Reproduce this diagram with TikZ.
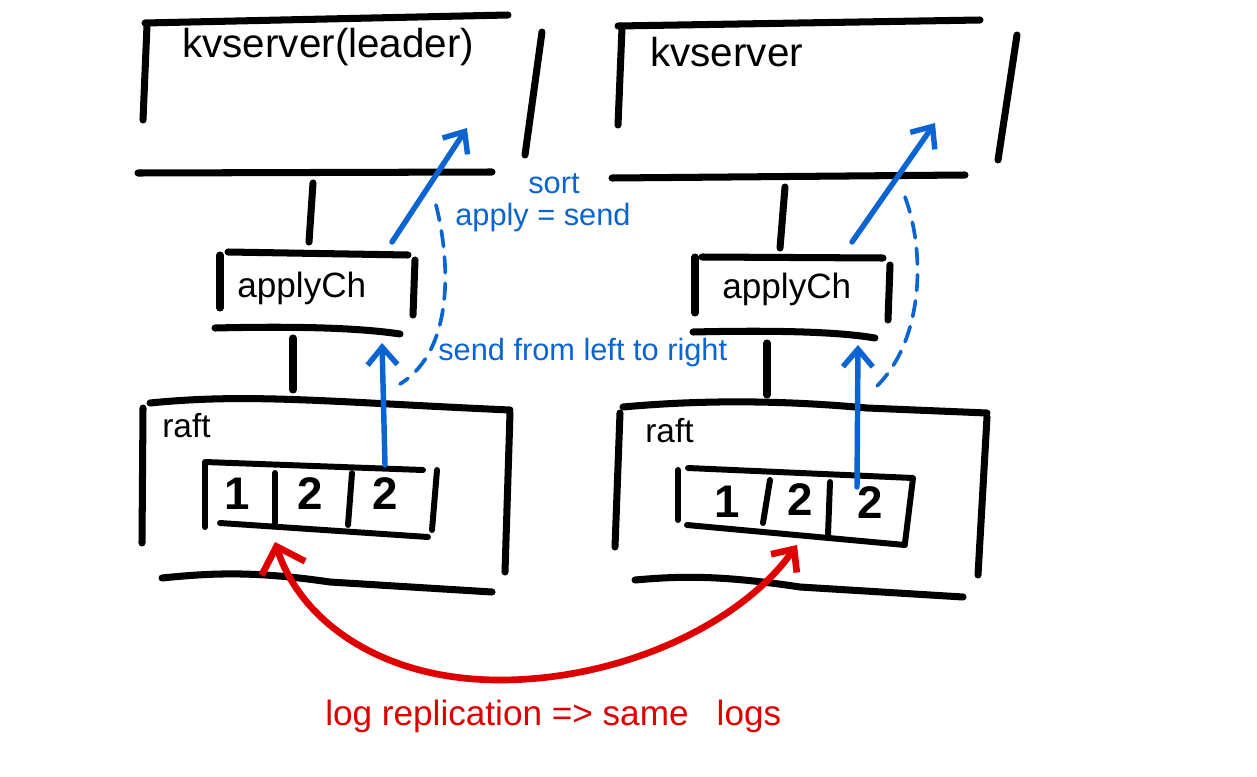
\documentclass[tikz,border=0pt]{standalone}
\usepackage{fontspec}
\setmainfont{Liberation Sans}
\usetikzlibrary{arrows.meta}
\definecolor{penblue}{RGB}{10,100,210}
\definecolor{penred}{RGB}{222,0,0}
\begin{document}
\begin{tikzpicture}[x=0.02cm,y=-0.02cm,
  ink/.style={line width=4pt,line cap=round,line join=round,black},
  thinink/.style={line width=3.4pt,line cap=round,line join=round,black},
  blueink/.style={line width=3.1pt,line cap=round,penblue},
  bluearrow/.style={blueink,-{Straight Barb[length=10pt,width=17pt]}},
  dashink/.style={line width=2.1pt,penblue,dash pattern=on 9pt off 6pt,line cap=round},
  redarrow/.style={line width=3.8pt,line cap=round,penred,
    {Straight Barb[length=13pt,width=26pt]}-{Straight Barb[length=10pt,width=18pt]}},
  lbl/.style={inner sep=0pt,anchor=base west,font=\fontsize{23}{28}\selectfont},
  aclbl/.style={inner sep=0pt,anchor=base west,font=\fontsize{20}{24}\selectfont},
  raftlbl/.style={inner sep=0pt,anchor=base west,font=\fontsize{19}{23}\selectfont},
  digit/.style={inner sep=0pt,anchor=center,font=\fontsize{26}{30}\selectfont\bfseries},
  bluelbl/.style={inner sep=0pt,anchor=base west,text=penblue,font=\fontsize{17.5}{21}\selectfont},
  redlbl/.style={inner sep=0pt,anchor=base west,text=penred,font=\fontsize{20}{24}\selectfont}
]
\useasboundingbox (0,0) rectangle (1257,777);

% ---------- left kvserver box ----------
\draw[ink] (145,23) -- (508,15);
\draw[ink] (147,25) -- (143,120);
\draw[ink] (542,32) -- (525,155);
\draw[ink] (138,173) -- (492,172);
\node[lbl] (kvLt) at (182,58) {kvserver(leader)};

% ---------- right kvserver box ----------
\draw[ink] (618,26) -- (980,20);
\draw[ink] (622,28) -- (618,125);
\draw[ink] (1017,35) -- (998,160);
\draw[ink] (612,178) -- (965,175);
\node[lbl] (kvRt) at (650,67) {kvserver};

% ---------- left applyCh box ----------
\draw[ink] (228,252) -- (408,255);
\draw[ink] (220,255) -- (220,308);
\draw[ink] (415,260) -- (413,315);
\draw[ink] (215,328) .. controls (300,326) and (360,328) .. (400,334);
\node[aclbl] (acLt) at (237,297) {applyCh};

% ---------- right applyCh box ----------
\draw[ink] (702,257) -- (883,258);
\draw[ink] (695,257) -- (695,313);
\draw[ink] (890,265) -- (888,320);
\draw[ink] (693,332) .. controls (780,330) and (840,332) .. (875,338);
\node[aclbl] (acRt) at (722,298) {applyCh};

% ---------- left raft box ----------
\draw[ink] (150,403) .. controls (250,393) and (330,402) .. (510,410);
\draw[ink] (143,408) -- (142,543);
\draw[ink] (510,413) -- (505,572);
\draw[ink] (162,578) .. controls (220,572) and (260,572) .. (330,582) -- (492,592);
\node[raftlbl] (raftLt) at (162,437) {raft};

% ---------- right raft box ----------
\draw[ink] (623,407) .. controls (700,400) and (780,400) .. (867,408) -- (987,413);
\draw[ink] (620,413) -- (615,547);
\draw[ink] (987,417) -- (978,575);
\draw[ink] (635,580) .. controls (680,576) and (720,575) .. (800,587) -- (963,597);
\node[raftlbl] (raftRt) at (645,442) {raft};

% ---------- left log array ----------
\draw[thinink] (205,527) -- (205,462) -- (423,470);
\draw[thinink] (437,470) -- (432,530);
\draw[thinink] (220,523) -- (428,537);
\draw[thinink] (275,473) -- (275,523);
\draw[thinink] (352,473) -- (348,525);
\node[digit] (lL1) at (237,494) {1};
\node[digit] (lL2) at (310,494) {2};
\node[digit] (lL3) at (385,494) {2};

% ---------- right log array ----------
\draw[thinink] (688,468) -- (913,478) -- (905,543);
\draw[thinink] (678,470) -- (678,520);
\draw[thinink] (687,525) -- (905,545);
\draw[thinink] (770,480) -- (763,523);
\draw[thinink] (830,482) -- (828,535);
\node[digit] (lR1) at (727,502) {1};
\node[digit] (lR2) at (800,500) {2};
\node[digit] (lR3) at (870,503) {2};

% ---------- black connectors ----------
\coordinate (kvLbot) at (313,183);
\coordinate (acLtop) at (309,242);
\coordinate (acLbot) at (293,338);
\coordinate (raftLtop) at (293,390);
\coordinate (kvRbot) at (785,187);
\coordinate (acRtop) at (780,248);
\coordinate (acRbot) at (767,343);
\coordinate (raftRtop) at (767,395);
\draw[ink] (kvLbot) -- (acLtop);
\draw[ink] (acLbot) -- (raftLtop);
\draw[ink] (kvRbot) -- (acRtop);
\draw[ink] (acRbot) -- (raftRtop);

% ---------- blue arrows ----------
\coordinate (logL3top) at (385,465);
\coordinate (acLin) at (382,343);
\coordinate (acLout) at (392,242);
\coordinate (kvLin) at (467,128);
\coordinate (logR3top) at (857,487);
\coordinate (acRin) at (858,345);
\coordinate (acRout) at (852,242);
\coordinate (kvRin) at (935,123);
\draw[bluearrow] (logL3top) -- (acLin);
\draw[bluearrow] (acLout) -- (kvLin);
\draw[bluearrow] (logR3top) -- (acRin);
\draw[bluearrow] (acRout) -- (kvRin);

% ---------- dashed blue curves ----------
\coordinate (dL1) at (436,205);
\coordinate (dL2) at (400,384);
\coordinate (dR1) at (905,197);
\coordinate (dR2) at (875,388);
\draw[dashink] (dL1) .. controls (450,260) and (455,350) .. (dL2);
\draw[dashink] (dR1) .. controls (925,250) and (925,340) .. (dR2);

% ---------- blue notes ----------
\node[bluelbl] (sortt) at (528,193) {sort};
\node[bluelbl] (applysend) at (455,225) {apply = send};
\node[bluelbl] (sendlr) at (438,360) {send from left to right};

% ---------- red replication arrow ----------
\coordinate (logL1bot) at (275,542);
\coordinate (logR2bot) at (797,545);
\draw[redarrow] (logL1bot) .. controls (300,620) and (380,680) .. (500,680)
  .. controls (620,680) and (740,625) .. (logR2bot);
\node[redlbl] (replt) at (325,725) {log replication => same\hspace{0.8em}logs};
\end{tikzpicture}
\end{document}
